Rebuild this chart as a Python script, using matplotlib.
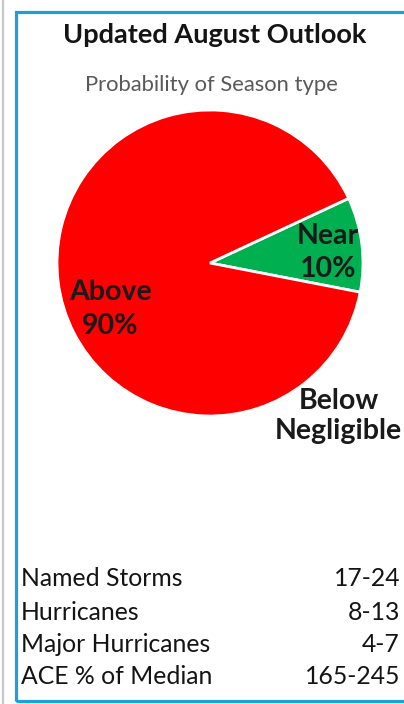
import matplotlib
matplotlib.use("Agg")
import matplotlib.pyplot as plt
from matplotlib.patches import Rectangle
from matplotlib.lines import Line2D

# Season-type probabilities
categories = ["Near", "Above"]
probabilities = [10, 90]
below_label = "Below"
below_value = "Negligible"

# Outlook ranges
stat_names = ["Named Storms", "Hurricanes", "Major Hurricanes", "ACE % of Median"]
stat_ranges = ["17-24", "8-13", "4-7", "165-245"]

W, H = 404, 704
DPI = 100
plt.rcParams["font.family"] = ["Lato", "DejaVu Sans"]

fig = plt.figure(figsize=(W / DPI, H / DPI), dpi=DPI)
fig.patch.set_facecolor("white")


def fx(px):
    return px / W


def fy(py):
    return 1 - py / H


# outer frame
fig.add_artist(Line2D([fx(2.5), fx(2.5)], [0, 1], color="#c8c8c8", lw=1.6))
fig.add_artist(Rectangle((fx(16), fy(701)), fx(420) - fx(16), fy(12) - fy(701),
                         fill=False, edgecolor="#1f9fda", lw=2.3,
                         transform=fig.transFigure, clip_on=False))

fig.text(fx(215), fy(35), "Updated August Outlook", ha="center", va="center",
         fontsize=19.5, fontweight="bold", color="#141414")
fig.text(fx(211), fy(85), "Probability of Season type", ha="center", va="center",
         fontsize=15.8, color="#595959")

# pie
cx, cy, r = 210, 263, 153
ax = fig.add_axes([fx(cx - r), fy(cy + r), fx(2 * r), fy(cy - r) - fy(cy + r)])
ax.pie(probabilities, colors=["#00b050", "#ff0000"], startangle=-11,
       counterclock=True, radius=1,
       wedgeprops=dict(edgecolor="white", linewidth=2))
ax.set_xlim(-1, 1)
ax.set_ylim(-1, 1)
ax.set_aspect("auto")
ax.axis("off")

lab_style = dict(ha="center", va="center", fontsize=20.5, fontweight="bold",
                 color="#1a1a1a", linespacing=1.35)
ax.text(0.77, 0.07, f"{categories[0]}\n{probabilities[0]}%", **lab_style)
ax.text(-0.65, -0.30, f"{categories[1]}\n{probabilities[1]}%", **lab_style)
ax.text(0.84, -1.0, f"{below_label}\n{below_value}", clip_on=False,
        **{**lab_style, "linespacing": 1.2})

# table of ranges
row_y = [579, 612, 645, 677]
for name, rng, y in zip(stat_names, stat_ranges, row_y):
    fig.text(fx(21), fy(y), name, ha="left", va="center", fontsize=17.8, color="#141414")
    fig.text(fx(400), fy(y), rng, ha="right", va="center", fontsize=17.8, color="#141414")

fig.savefig("out.png", dpi=DPI, facecolor="white")
